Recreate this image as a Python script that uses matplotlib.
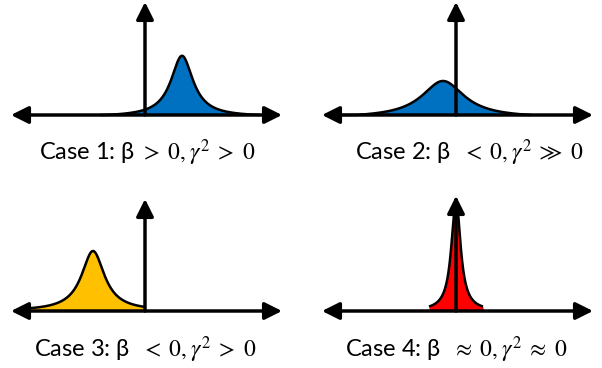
import numpy as np
import matplotlib
matplotlib.use('Agg')
import matplotlib.pyplot as plt

plt.rcParams['font.family'] = ['Lato', 'DejaVu Sans']
plt.rcParams['mathtext.fontset'] = 'stix'

# four sketch panels: a peaked density relative to the origin
labels = [r'Case 1: β $>\; 0,\gamma^2 \;>\; 0$',
          r'Case 2: β  $<\; 0,\gamma^2 \;\gg\; 0$',
          r'Case 3: β  $<\; 0,\gamma^2 \;>\; 0$',
          r'Case 4: β  $\approx\; 0,\gamma^2 \;\approx\; 0$']
peak_center = [0.37, -0.13, -0.52, 0.0]
peak_height = [0.61, 0.37, 0.60, 1.12]
peak_fwhm = [0.27, 0.52, 0.28, 0.11]
curve_left = [-0.45, -1.15, -1.2, -0.27]
curve_right = [1.15, 0.75, 0.0, 0.27]
taper_tails = [True, True, False, False]
fill_colors = ['#0070C0', '#0070C0', '#FFC000', '#FF0000']

# panel origins in pixels (where the two arrows meet)
origins = [(145, 115), (456, 115), (145, 311), (456, 311)]
label_x = [0.02, 0.13, 0.0, 0.0]
label_y = [-0.38, -0.38, -0.39, -0.39]
vert_top = [1.13, 1.13, 1.12, 1.15]

W, H = 602, 368
fig = plt.figure(figsize=(W / 100, H / 100), dpi=100)

for i in range(4):
    ox, oy = origins[i]
    ax = fig.add_axes([(ox - 145) / W, (H - (oy + 20)) / H, 290 / W, 140 / H])
    ax.set_xlim(-1.45, 1.45)
    ax.set_ylim(-0.2, 1.2)
    ax.axis('off')

    x = np.linspace(curve_left[i], curve_right[i], 600)
    g = peak_fwhm[i] / 2
    y = peak_height[i] / (1 + ((x - peak_center[i]) / g) ** 2)
    if taper_tails[i]:
        # let the tails run down onto the axis
        y = np.clip(y - max(y[0], y[-1]), 0, None)
    ax.fill_between(x, 0, y, color=fill_colors[i], zorder=1, lw=0)
    ax.plot(x, y, color='black', lw=1.8, zorder=2, solid_capstyle='butt')

    arrow = dict(arrowstyle='<|-|>', lw=2.5, color='black', mutation_scale=26,
                 shrinkA=0, shrinkB=0)
    ax.annotate('', xy=(1.37, 0), xytext=(-1.34, 0), arrowprops=arrow, zorder=3)
    arrow = dict(arrowstyle='-|>', lw=2.5, color='black', mutation_scale=26,
                 shrinkA=0, shrinkB=0)
    ax.annotate('', xy=(0, vert_top[i]), xytext=(0, 0), arrowprops=arrow, zorder=3)

    ax.text(label_x[i], label_y[i], labels[i], ha='center', va='center', fontsize=17)

fig.savefig('out.png', dpi=100)
